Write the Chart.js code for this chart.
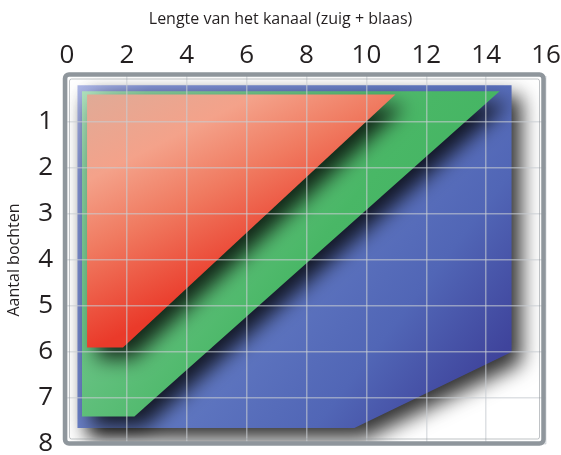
<!DOCTYPE html>
<html>
<head>
<meta charset="utf-8">
<script src="https://cdn.jsdelivr.net/npm/chart.js@4"></script>
<style>
html,body{margin:0;padding:0;background:#fff;}
canvas{display:block;}
</style>
</head>
<body>
<canvas id="c" width="561" height="455"></canvas>
<script>
// ---- data ----
const xTicks = [0, 2, 4, 6, 8, 10, 12, 14, 16];
const yTicks = [1, 2, 3, 4, 5, 6, 7, 8];
const xTitle = 'Lengte van het kanaal (zuig + blaas)';
const yTitle = 'Aantal bochten';

const blueX  = [0.35, 14.85, 14.85, 9.6, 0.35];
const blueY  = [0.2, 0.2, 6.0, 7.65, 7.65];
const greenX = [0.5, 14.45, 2.25, 0.5];
const greenY = [0.33, 0.33, 7.4, 7.4];
const redX   = [0.67, 10.97, 1.87, 0.67];
const redY   = [0.4, 0.4, 5.9, 5.9];

const toPts = (xs, ys) => xs.map((x, i) => ({x: x, y: ys[i]}));

function grad(stops, dir) {
  return (ctx) => {
    const a = ctx.chart.chartArea;
    if (!a) return stops[0][1];
    const c = ctx.chart.ctx;
    const x0 = a.left, y0 = a.top;
    const x1 = x0 + (a.right - a.left) * dir[0];
    const y1 = y0 + (a.bottom - a.top) * dir[1];
    const g = c.createLinearGradient(x0, y0, x1, y1);
    stops.forEach(s => g.addColorStop(s[0], s[1]));
    return g;
  };
}

const blueGrad = grad([[0, '#b7bfe8'], [0.12, '#8191d3'], [0.45, '#6179c2'], [0.68, '#5166b6'], [0.85, '#3f449c'], [1, '#34388f']], [1, 1]);
const greenGrad = grad([[0, '#bfe6c9'], [0.12, '#86cd9c'], [0.3, '#68c283'], [0.5, '#49b766'], [1, '#37ad59']], [1, 1]);
const redGrad = grad([[0, '#d9ad9b'], [0.4, '#f4a28a'], [0.65, '#f07a60'], [1, '#ea3a2a']], [0.24, 0.62]);

const shadowPlugin = {
  id: 'shadow',
  beforeDatasetsDraw(chart) {
    const c = chart.ctx;
    c.save();
    c.shadowColor = 'rgba(0,0,0,0.8)';
    c.shadowBlur = 20;
    c.shadowOffsetX = 10;
    c.shadowOffsetY = 11;
  },
  afterDatasetsDraw(chart) {
    chart.ctx.restore();
  }
};

function rr(c, x, y, w, h, r) {
  c.beginPath();
  c.moveTo(x + r, y);
  c.lineTo(x + w - r, y);
  c.arcTo(x + w, y, x + w, y + r, r);
  c.lineTo(x + w, y + h - r);
  c.arcTo(x + w, y + h, x + w - r, y + h, r);
  c.lineTo(x + r, y + h);
  c.arcTo(x, y + h, x, y + h - r, r);
  c.lineTo(x, y + r);
  c.arcTo(x, y, x + r, y, r);
  c.closePath();
}

const framePlugin = {
  id: 'frame',
  afterDraw(chart) {
    const a = chart.chartArea;
    const c = chart.ctx;
    c.save();
    c.strokeStyle = '#8f969c';
    c.lineWidth = 4.5;
    rr(c, a.left - 2, a.top - 1.5, a.right - a.left - 0.5, a.bottom - a.top + 1, 4);
    c.stroke();
    c.strokeStyle = 'rgba(140,146,152,0.55)';
    c.lineWidth = 1;
    rr(c, a.left + 2.5, a.top + 3, a.right - a.left - 9, a.bottom - a.top - 8, 2);
    c.stroke();
    c.restore();
  }
};

const baseDs = {
  showLine: true,
  borderColor: 'rgba(0,0,0,0)',
  borderWidth: 0,
  pointRadius: 0,
  pointHoverRadius: 0,
  fill: 'shape'
};

const gridOpts = {color: 'rgba(200,205,210,0.6)', lineWidth: 1.5, drawTicks: false, z: 1};
const font = '"Open Sans", sans-serif';

new Chart(document.getElementById('c'), {
  type: 'scatter',
  data: {
    datasets: [
      Object.assign({}, baseDs, {label: 'rood', data: toPts(redX, redY), backgroundColor: redGrad, order: 0}),
      Object.assign({}, baseDs, {label: 'groen', data: toPts(greenX, greenY), backgroundColor: greenGrad, order: 1}),
      Object.assign({}, baseDs, {label: 'blauw', data: toPts(blueX, blueY), backgroundColor: blueGrad, order: 2})
    ]
  },
  options: {
    responsive: false,
    animation: false,
    events: [],
    layout: {padding: {left: 0, top: 0, right: 0, bottom: 11}},
    plugins: {
      legend: {display: false},
      tooltip: {enabled: false},
      title: {
        display: true,
        text: xTitle,
        color: '#231f20',
        font: {family: font, size: 16, weight: 'normal'},
        padding: {top: 10, bottom: 6}
      }
    },
    scales: {
      x: {
        type: 'linear',
        position: 'top',
        min: 0, max: 16,
        afterBuildTicks: s => { s.ticks = xTicks.map(v => ({value: v})); },
        afterFit: s => { s.height = 76 - 35.2; s.paddingLeft = 0; s.paddingRight = 0; },
        ticks: {
          color: '#231f20',
          padding: 5,
          font: {family: font, size: 26},
          maxRotation: 0
        },
        grid: gridOpts,
        border: {display: false}
      },
      y: {
        type: 'linear',
        reverse: true,
        min: 0, max: 8,
        afterBuildTicks: s => { s.ticks = yTicks.map(v => ({value: v})); },
        afterFit: s => { s.width = 67; s.paddingTop = 0; s.paddingBottom = 0; },
        ticks: {
          color: '#231f20',
          padding: 14,
          font: {family: font, size: 26}
        },
        grid: gridOpts,
        border: {display: false},
        title: {
          display: true,
          text: yTitle,
          color: '#231f20',
          font: {family: font, size: 16},
          padding: {top: 5, bottom: 0}
        }
      },
      yRight: {
        type: 'linear',
        position: 'right',
        min: 0, max: 8,
        ticks: {display: false},
        grid: {display: false},
        border: {display: false},
        afterFit: s => { s.width = 15; s.paddingTop = 0; s.paddingBottom = 0; }
      }
    }
  },
  plugins: [shadowPlugin, framePlugin]
});
</script>
</body>
</html>
